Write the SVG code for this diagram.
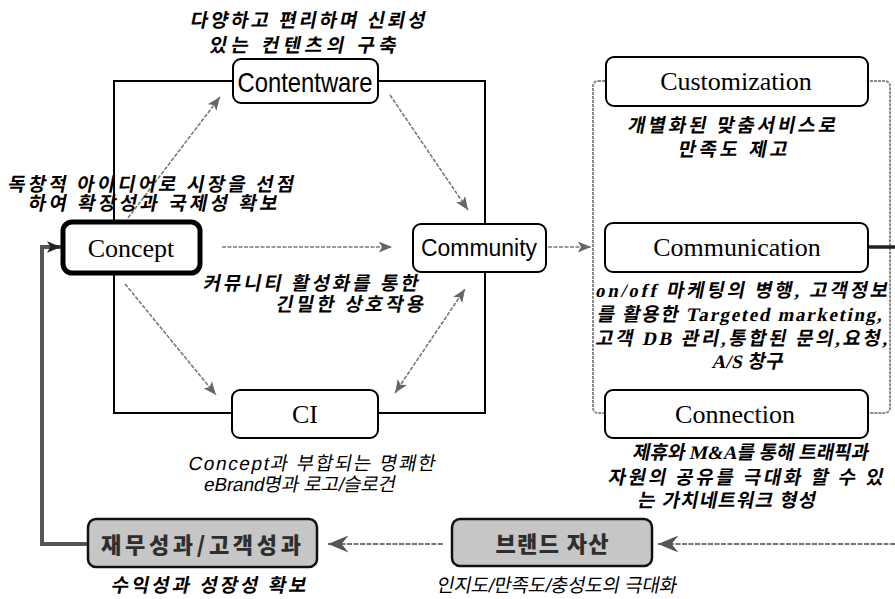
<svg xmlns="http://www.w3.org/2000/svg" width="895" height="599" viewBox="0 0 895 599">
<defs>
<style>
.box{fill:#fff;stroke:#000;stroke-width:2}
.thick{fill:#fff;stroke:#000;stroke-width:5}
.shade{fill:#c6c6c6;stroke:#111;stroke-width:2.5}
.frame{fill:none;stroke:#000;stroke-width:2}
.dframe{fill:none;stroke:#8a8a8a;stroke-width:2;stroke-dasharray:3 1}
.conn{fill:none;stroke:#7a7a7a;stroke-width:1.6;stroke-dasharray:4 1.5}
.fb{fill:none;stroke:#555;stroke-width:4}
.blk{fill:none;stroke:#222;stroke-width:3.5}
.bot{fill:none;stroke:#777;stroke-width:2.2;stroke-dasharray:5 1.5}
.serif{font-family:"Liberation Serif","Times New Roman",serif;font-size:26px;text-anchor:middle;fill:#000}
.narrow{font-family:"Liberation Sans Narrow","Liberation Sans",Arial,sans-serif;font-size:28px;text-anchor:middle;fill:#000}
.sans{font-family:"Liberation Sans",Arial,sans-serif;font-size:23px;text-anchor:middle;fill:#000}
.cap{font-family:"Liberation Serif","Noto Sans CJK KR",serif;font-weight:700;font-size:19px;text-anchor:middle;fill:#000}
.capl{font-family:"Liberation Sans","Noto Sans CJK KR",sans-serif;font-weight:400;font-size:19px;text-anchor:middle;fill:#000}
.sh{font-family:"Noto Sans CJK KR",sans-serif;font-weight:900;font-size:22px;text-anchor:middle;fill:#2e2e2e}
</style>
<marker id="ag" viewBox="0 0 12 10" refX="12" refY="5" markerWidth="14" markerHeight="11" markerUnits="userSpaceOnUse" orient="auto-start-reverse">
<path d="M0,0 L12,5 L0,10 L3,5 z" fill="#666"/>
</marker>
<marker id="ab" viewBox="0 0 12 10" refX="12" refY="5" markerWidth="24" markerHeight="17" markerUnits="userSpaceOnUse" orient="auto">
<path d="M0,0 L12,5 L0,10 L4,5 z" fill="#555"/>
</marker>
<marker id="ak" viewBox="0 0 12 10" refX="12" refY="5" markerWidth="14" markerHeight="13" markerUnits="userSpaceOnUse" orient="auto">
<path d="M0,0 L12,5 L0,10 L3,5 z" fill="#222"/>
</marker>
</defs>
<rect width="895" height="599" fill="#fff"/>

<g id="frames">
<rect class="frame" x="114" y="81" width="371" height="332"/>
<rect class="dframe" x="593" y="81" width="297" height="332" rx="5"/>
</g>

<g id="connectors">
<line class="conn" x1="128" y1="218" x2="220" y2="97" marker-end="url(#ag)"/>
<line class="conn" x1="390" y1="95" x2="468" y2="210" marker-end="url(#ag)"/>
<line class="conn" x1="222" y1="247" x2="392" y2="247" marker-end="url(#ag)"/>
<line class="conn" x1="125" y1="284" x2="216" y2="395" marker-end="url(#ag)"/>
<line class="conn" x1="395" y1="393" x2="465" y2="289" marker-start="url(#ag)" marker-end="url(#ag)"/>
<line class="conn" x1="548" y1="247" x2="591" y2="247" marker-end="url(#ag)"/>
<polyline class="blk" points="868,247 895,247"/>
<line class="bot" x1="895" y1="544" x2="658" y2="544" marker-end="url(#ab)"/>
<line class="bot" x1="443" y1="544" x2="328" y2="544" marker-end="url(#ab)"/>
<polyline class="fb" points="88,544 42,544 42,247 61,247" marker-end="url(#ak)"/>
</g>

<g id="contentware">
<rect class="box" x="233" y="59" width="145" height="44" rx="8"/>
<text class="narrow" x="305" y="92" textLength="135" lengthAdjust="spacingAndGlyphs">Contentware</text>
<text class="cap" x="307" y="27" transform="matrix(1 0 -0.2 1 5.4 0)" textLength="235" lengthAdjust="spacing">다양하고 편리하며 신뢰성</text>
<text class="cap" x="302" y="52" transform="matrix(1 0 -0.2 1 10.4 0)" textLength="187" lengthAdjust="spacing">있는 컨텐츠의 구축</text>
</g>

<g id="concept">
<rect class="thick" x="63" y="222" width="137" height="51" rx="9"/>
<text class="serif" x="131" y="257">Concept</text>
<text class="cap" x="150" y="191" transform="matrix(1 0 -0.2 1 38.2 0)" textLength="286" lengthAdjust="spacing">독창적 아이디어로 시장을 선점</text>
<text class="cap" x="152" y="210" transform="matrix(1 0 -0.2 1 42 0)" textLength="249" lengthAdjust="spacing">하여 확장성과 국제성 확보</text>
</g>

<g id="community">
<rect class="box" x="413" y="224" width="133" height="48" rx="8"/>
<text class="sans" x="479" y="256" textLength="116" lengthAdjust="spacingAndGlyphs">Community</text>
<text class="cap" x="310" y="290" transform="matrix(1 0 -0.2 1 58 0)" textLength="215" lengthAdjust="spacing">커뮤니티 활성화를 통한</text>
<text class="cap" x="349" y="311" transform="matrix(1 0 -0.2 1 62.2 0)" textLength="148" lengthAdjust="spacing">긴밀한 상호작용</text>
</g>

<g id="ci">
<rect class="box" x="232" y="390" width="146" height="48" rx="8"/>
<text class="serif" x="305" y="423" font-size="27">CI</text>
<text class="capl" x="311" y="470" transform="matrix(1 0 -0.2 1 94 0)" textLength="247" lengthAdjust="spacing">Concept과 부합되는 명쾌한</text>
<text class="capl" x="299" y="491" transform="matrix(1 0 -0.2 1 98.2 0)" textLength="192" lengthAdjust="spacing">eBrand명과 로고/슬로건</text>
</g>

<g id="customization">
<rect class="box" x="606" y="57" width="262" height="49" rx="8"/>
<text class="serif" x="736" y="90" font-size="27">Customization</text>
<text class="cap" x="731" y="132" transform="matrix(1 0 -0.2 1 26.4 0)" textLength="208" lengthAdjust="spacing">개별화된 맞춤서비스로</text>
<text class="cap" x="732" y="156" transform="matrix(1 0 -0.2 1 31.2 0)" textLength="109" lengthAdjust="spacing">만족도 제고</text>
</g>

<g id="communication">
<rect class="box" x="605" y="223" width="263" height="49" rx="8"/>
<text class="serif" x="737" y="256">Communication</text>
<text class="cap" x="741" y="297" transform="matrix(1 0 -0.2 1 59.4 0)" textLength="292" lengthAdjust="spacing">on/off 마케팅의 병행, 고객정보</text>
<text class="cap" x="739" y="321" transform="matrix(1 0 -0.2 1 64.2 0)" textLength="285" lengthAdjust="spacing">를 활용한 Targeted marketing,</text>
<text class="cap" x="741" y="345" transform="matrix(1 0 -0.2 1 69 0)" textLength="292" lengthAdjust="spacing">고객 DB 관리,통합된 문의,요청,</text>
<text class="cap" x="747" y="368" transform="matrix(1 0 -0.2 1 73.6 0)" textLength="71" lengthAdjust="spacing">A/S 창구</text>
</g>

<g id="connection">
<rect class="box" x="605" y="390" width="263" height="48" rx="8"/>
<text class="serif" x="735" y="423">Connection</text>
<text class="cap" x="750" y="459" transform="matrix(1 0 -0.2 1 91.8 0)" textLength="236" lengthAdjust="spacing">제휴와 M&amp;A를 통해 트래픽과</text>
<text class="cap" x="745" y="484" transform="matrix(1 0 -0.2 1 96.8 0)" textLength="275" lengthAdjust="spacing">자원의 공유를 극대화 할 수 있</text>
<text class="cap" x="726" y="507" transform="matrix(1 0 -0.2 1 101.4 0)" textLength="178" lengthAdjust="spacing">는 가치네트워크 형성</text>
</g>

<g id="brand">
<rect class="shade" x="452" y="519" width="200" height="47" rx="8"/>
<text class="sh" x="552" y="552" textLength="113" lengthAdjust="spacing">브랜드 자산</text>
<text class="capl" x="556" y="592" font-weight="500" font-size="20" transform="matrix(1 0 -0.2 1 118.4 0)" textLength="240" lengthAdjust="spacing">인지도/만족도/충성도의 극대화</text>
</g>

<g id="performance">
<rect class="shade" x="88" y="519" width="229" height="48" rx="8"/>
<text class="sh" x="201" y="553" textLength="200" lengthAdjust="spacing">재무성과/고객성과</text>
<text class="cap" x="208" y="592" font-weight="500" transform="matrix(1 0 -0.2 1 118.4 0)" textLength="195" lengthAdjust="spacing">수익성과 성장성 확보</text>
</g>
</svg>
